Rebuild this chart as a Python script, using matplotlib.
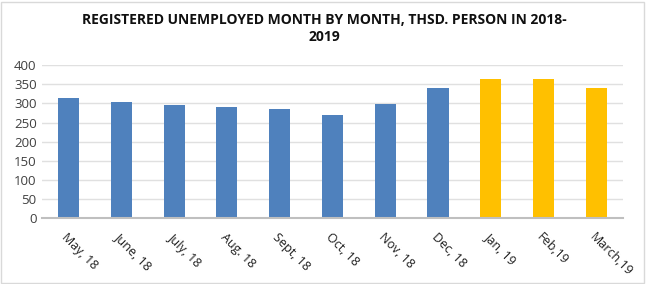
import matplotlib.pyplot as plt
import matplotlib.patches as mpatches

months = ["May, 18", "June, 18", "July, 18", "Aug. 18", "Sept, 18", "Oct, 18",
          "Nov, 18", "Dec, 18", "Jan, 19", "Feb,19", "March,19"]
unemployed = [313, 303, 296, 291, 286, 271, 299, 340, 363, 364, 340]
colors = ["#4F81BD"] * 8 + ["#FFC000"] * 3

plt.rcParams['font.family'] = ['Open Sans', 'DejaVu Sans']

fig = plt.figure(figsize=(6.48, 2.84), dpi=100)
ax = fig.add_axes([0.065, 0.233, 0.896, 0.537])

x = list(range(len(months)))
ax.bar(x, unemployed, width=0.4, color=colors, zorder=3)

ax.set_ylim(0, 400)
ax.set_xlim(-0.5, len(months) - 0.5)
ax.set_yticks(range(0, 401, 50))
ax.tick_params(axis='y', length=0, labelsize=9.5, colors='#404040', pad=4)
ax.tick_params(axis='x', length=0, labelsize=9, colors='#202020', pad=9)
ax.set_xticks(x)
ax.set_xticklabels(months)
plt.setp(ax.get_xticklabels(), rotation=-45, ha='left', va='top',
         rotation_mode='anchor')

ax.grid(axis='y', color='#E0E0E0', linewidth=1, zorder=0)
for s in ['top', 'right', 'left']:
    ax.spines[s].set_visible(False)
ax.spines['bottom'].set_color('#BFBFBF')
ax.spines['bottom'].set_linewidth(1.5)
ax.spines['bottom'].set_zorder(4)

fig.text(0.5, 0.955, "REGISTERED UNEMPLOYED MONTH BY MONTH, THSD. PERSON IN 2018-",
         ha='center', va='top', fontsize=10, fontweight='bold', color='#101010')
fig.text(0.5, 0.895, "2019", ha='center', va='top', fontsize=10,
         fontweight='bold', color='#101010')

fig.patches.append(mpatches.Rectangle((0.002, 0.004), 0.992, 0.99, transform=fig.transFigure,
                                      fill=False, edgecolor='#D9D9D9', linewidth=1))

fig.savefig("out.png", dpi=100)
